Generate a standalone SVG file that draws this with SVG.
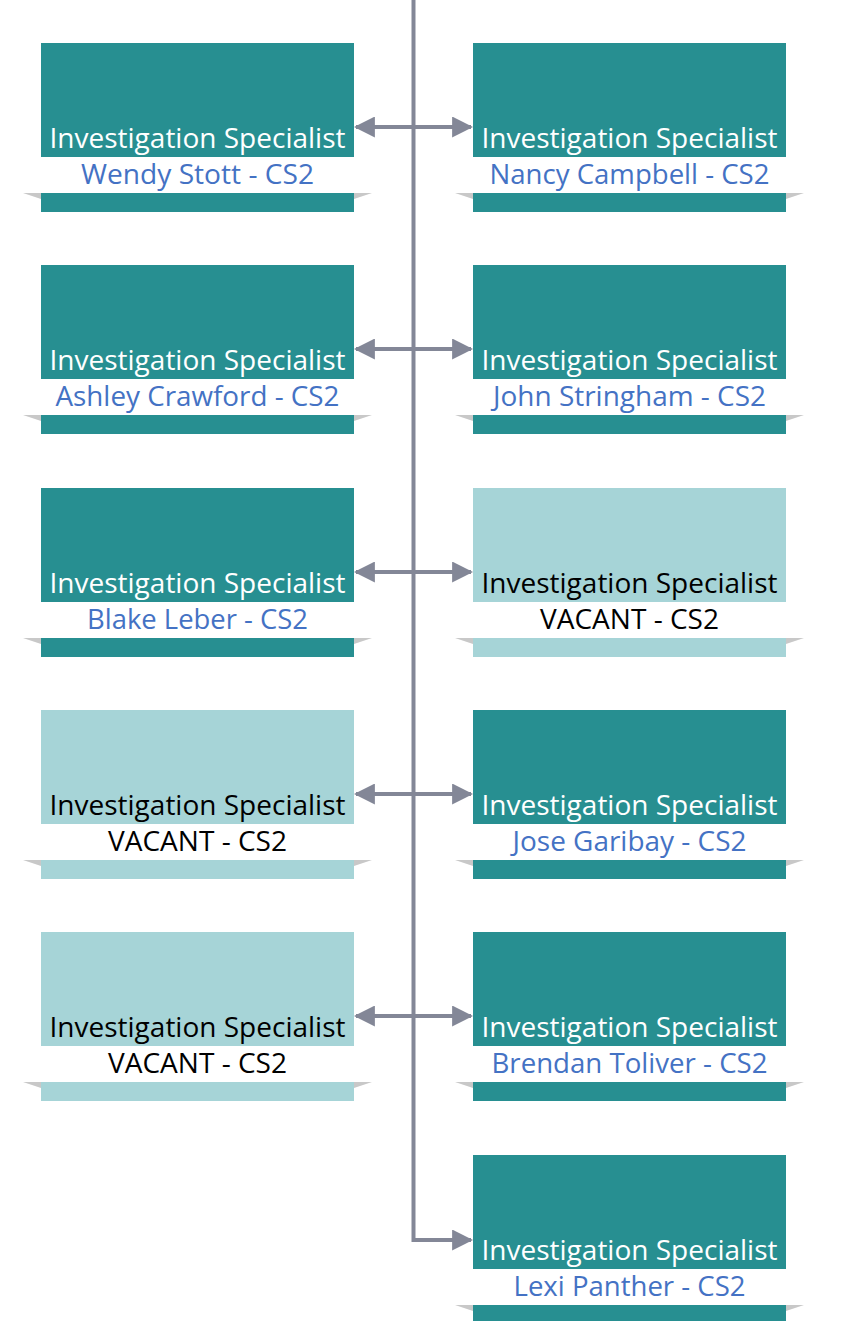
<svg xmlns="http://www.w3.org/2000/svg" width="852" height="1321" viewBox="0 0 852 1321">
<style>
.dk{fill:#278f91}
.lt{fill:#a6d4d7}
.band{fill:#ffffff}
.fold{fill:#c8c8c8}
.t{font-family:"Open Sans","Liberation Sans",Arial,sans-serif;font-size:26.5px;text-anchor:middle}
.tw{fill:#ffffff}
.tb{fill:#000000}
.nm{fill:#4472c4}
.cn{stroke:#838797;stroke-width:4;fill:none}
</style>
<defs>
<marker id="ah" viewBox="0 0 20 20" refX="18" refY="10" markerWidth="21" markerHeight="21" markerUnits="userSpaceOnUse" orient="auto-start-reverse">
<path d="M0,0 L20,10 L0,20 z" fill="#838797"/>
</marker>
</defs>
<g id="connectors">
<path class="cn" d="M413.5,0 V1240 H471" marker-end="url(#ah)"/>
<line class="cn" x1="356" y1="127" x2="471" y2="127" marker-start="url(#ah)" marker-end="url(#ah)"/>
<line class="cn" x1="356" y1="349" x2="471" y2="349" marker-start="url(#ah)" marker-end="url(#ah)"/>
<line class="cn" x1="356" y1="572" x2="471" y2="572" marker-start="url(#ah)" marker-end="url(#ah)"/>
<line class="cn" x1="356" y1="794" x2="471" y2="794" marker-start="url(#ah)" marker-end="url(#ah)"/>
<line class="cn" x1="356" y1="1016" x2="471" y2="1016" marker-start="url(#ah)" marker-end="url(#ah)"/>
</g>
<g id="n1" transform="translate(41,43)">
<rect class="dk" x="0" y="0" width="313" height="169"/>
<rect class="band" x="-17" y="114" width="347" height="36"/>
<polygon class="fold" points="-18,150 0,150 0,156"/><polygon class="fold" points="313,150 331,150 313,156"/>
<text class="t tw" x="156.5" y="105" textLength="296" lengthAdjust="spacingAndGlyphs">Investigation Specialist</text>
<text class="t nm" x="156.5" y="141" textLength="233" lengthAdjust="spacingAndGlyphs">Wendy Stott - CS2</text>
</g>
<g id="n2" transform="translate(473,43)">
<rect class="dk" x="0" y="0" width="313" height="169"/>
<rect class="band" x="-17" y="114" width="347" height="36"/>
<polygon class="fold" points="-18,150 0,150 0,156"/><polygon class="fold" points="313,150 331,150 313,156"/>
<text class="t tw" x="156.5" y="105" textLength="296" lengthAdjust="spacingAndGlyphs">Investigation Specialist</text>
<text class="t nm" x="156.5" y="141" textLength="280" lengthAdjust="spacingAndGlyphs">Nancy Campbell - CS2</text>
</g>
<g id="n3" transform="translate(41,265)">
<rect class="dk" x="0" y="0" width="313" height="169"/>
<rect class="band" x="-17" y="114" width="347" height="36"/>
<polygon class="fold" points="-18,150 0,150 0,156"/><polygon class="fold" points="313,150 331,150 313,156"/>
<text class="t tw" x="156.5" y="105" textLength="296" lengthAdjust="spacingAndGlyphs">Investigation Specialist</text>
<text class="t nm" x="156.5" y="141" textLength="284" lengthAdjust="spacingAndGlyphs">Ashley Crawford - CS2</text>
</g>
<g id="n4" transform="translate(473,265)">
<rect class="dk" x="0" y="0" width="313" height="169"/>
<rect class="band" x="-17" y="114" width="347" height="36"/>
<polygon class="fold" points="-18,150 0,150 0,156"/><polygon class="fold" points="313,150 331,150 313,156"/>
<text class="t tw" x="156.5" y="105" textLength="296" lengthAdjust="spacingAndGlyphs">Investigation Specialist</text>
<text class="t nm" x="156.5" y="141" textLength="273" lengthAdjust="spacingAndGlyphs">John Stringham - CS2</text>
</g>
<g id="n5" transform="translate(41,488)">
<rect class="dk" x="0" y="0" width="313" height="169"/>
<rect class="band" x="-17" y="114" width="347" height="36"/>
<polygon class="fold" points="-18,150 0,150 0,156"/><polygon class="fold" points="313,150 331,150 313,156"/>
<text class="t tw" x="156.5" y="105" textLength="296" lengthAdjust="spacingAndGlyphs">Investigation Specialist</text>
<text class="t nm" x="156.5" y="141" textLength="221" lengthAdjust="spacingAndGlyphs">Blake Leber - CS2</text>
</g>
<g id="n6" transform="translate(473,488)">
<rect class="lt" x="0" y="0" width="313" height="169"/>
<rect class="band" x="-17" y="114" width="347" height="36"/>
<polygon class="fold" points="-18,150 0,150 0,156"/><polygon class="fold" points="313,150 331,150 313,156"/>
<text class="t tb" x="156.5" y="105" textLength="296" lengthAdjust="spacingAndGlyphs">Investigation Specialist</text>
<text class="t tb" x="156.5" y="141" textLength="179" lengthAdjust="spacingAndGlyphs">VACANT - CS2</text>
</g>
<g id="n7" transform="translate(41,710)">
<rect class="lt" x="0" y="0" width="313" height="169"/>
<rect class="band" x="-17" y="114" width="347" height="36"/>
<polygon class="fold" points="-18,150 0,150 0,156"/><polygon class="fold" points="313,150 331,150 313,156"/>
<text class="t tb" x="156.5" y="105" textLength="296" lengthAdjust="spacingAndGlyphs">Investigation Specialist</text>
<text class="t tb" x="156.5" y="141" textLength="179" lengthAdjust="spacingAndGlyphs">VACANT - CS2</text>
</g>
<g id="n8" transform="translate(473,710)">
<rect class="dk" x="0" y="0" width="313" height="169"/>
<rect class="band" x="-17" y="114" width="347" height="36"/>
<polygon class="fold" points="-18,150 0,150 0,156"/><polygon class="fold" points="313,150 331,150 313,156"/>
<text class="t tw" x="156.5" y="105" textLength="296" lengthAdjust="spacingAndGlyphs">Investigation Specialist</text>
<text class="t nm" x="156.5" y="141" textLength="234" lengthAdjust="spacingAndGlyphs">Jose Garibay - CS2</text>
</g>
<g id="n9" transform="translate(41,932)">
<rect class="lt" x="0" y="0" width="313" height="169"/>
<rect class="band" x="-17" y="114" width="347" height="36"/>
<polygon class="fold" points="-18,150 0,150 0,156"/><polygon class="fold" points="313,150 331,150 313,156"/>
<text class="t tb" x="156.5" y="105" textLength="296" lengthAdjust="spacingAndGlyphs">Investigation Specialist</text>
<text class="t tb" x="156.5" y="141" textLength="179" lengthAdjust="spacingAndGlyphs">VACANT - CS2</text>
</g>
<g id="n10" transform="translate(473,932)">
<rect class="dk" x="0" y="0" width="313" height="169"/>
<rect class="band" x="-17" y="114" width="347" height="36"/>
<polygon class="fold" points="-18,150 0,150 0,156"/><polygon class="fold" points="313,150 331,150 313,156"/>
<text class="t tw" x="156.5" y="105" textLength="296" lengthAdjust="spacingAndGlyphs">Investigation Specialist</text>
<text class="t nm" x="156.5" y="141" textLength="276" lengthAdjust="spacingAndGlyphs">Brendan Toliver - CS2</text>
</g>
<g id="n11" transform="translate(473,1155)">
<rect class="dk" x="0" y="0" width="313" height="166"/>
<rect class="band" x="-17" y="114" width="347" height="36"/>
<polygon class="fold" points="-18,150 0,150 0,156"/><polygon class="fold" points="313,150 331,150 313,156"/>
<text class="t tw" x="156.5" y="105" textLength="296" lengthAdjust="spacingAndGlyphs">Investigation Specialist</text>
<text class="t nm" x="156.5" y="141" textLength="232" lengthAdjust="spacingAndGlyphs">Lexi Panther - CS2</text>
</g>
</svg>
